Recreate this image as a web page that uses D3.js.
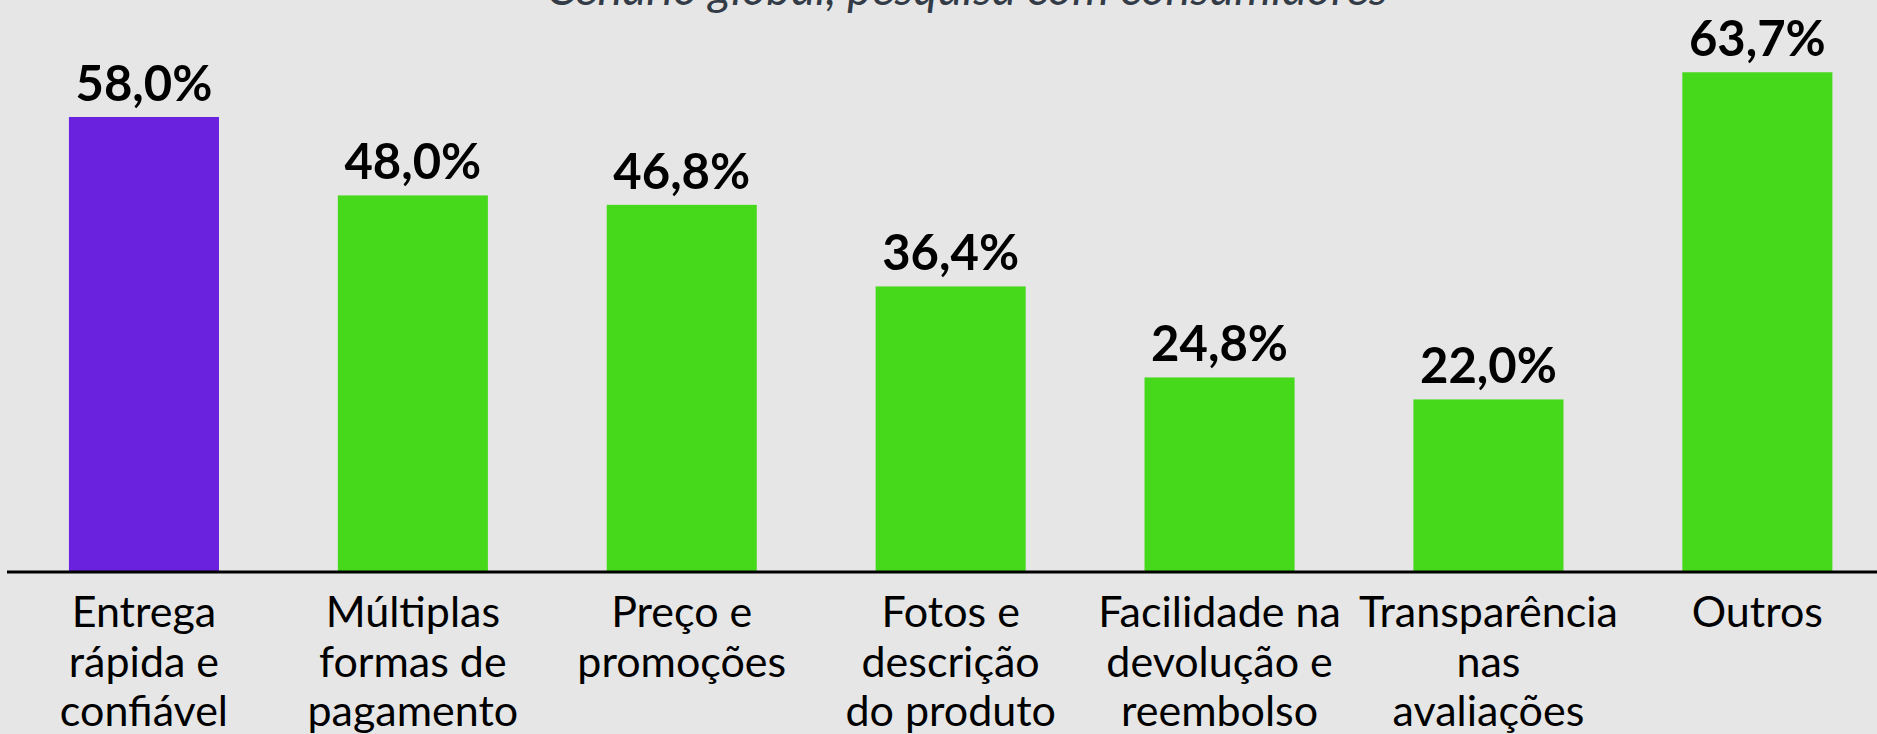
<!DOCTYPE html>
<html>
<head>
  <meta charset="utf-8" />
  <script src="https://d3js.org/d3.v7.min.js"></script>
  <style>
    body { margin: 0; background: #e6e6e6; }
    svg { display: block; }
  </style>
</head>
<body>
  <svg id="chart" width="1877" height="734"></svg>
  <script>
    const categories = [
      ["Entrega", "rápida e", "confiável"],
      ["Múltiplas", "formas de", "pagamento"],
      ["Preço e", "promoções"],
      ["Fotos e", "descrição", "do produto"],
      ["Facilidade na", "devolução e", "reembolso"],
      ["Transparência", "nas", "avaliações"],
      ["Outros"]
    ];
    const values = [58.0, 48.0, 46.8, 36.4, 24.8, 22.0, 63.7];
    const barColors = ["#6a22de", "#46d81a", "#46d81a", "#46d81a", "#46d81a", "#46d81a", "#46d81a"];
    const subtitle = "Cenário global, pesquisa com consumidores";

    const svg = d3.select("#chart");
    const width = +svg.attr("width");
    const baseY = 572;
    const font = "Lato, 'Open Sans', sans-serif";

    svg.append("rect").attr("width", width).attr("height", 734).attr("fill", "#e6e6e6");

    const x = d3.scaleBand()
      .domain(d3.range(values.length))
      .range([9.5, 1891.8])
      .paddingInner(0.442)
      .paddingOuter(0.221);

    const y = d3.scaleLinear().domain([0, 70]).range([baseY, baseY - 70 * 7.845]);

    // subtitle (top half is outside the picture in the original)
    svg.append("text")
      .attr("x", 967).attr("y", 5)
      .attr("text-anchor", "middle")
      .attr("font-family", font)
      .attr("font-style", "italic")
      .attr("font-size", 47)
      .attr("fill", "#333b46")
      .text(subtitle);

    svg.selectAll("rect.bar")
      .data(values)
      .join("rect")
      .attr("class", "bar")
      .attr("x", (d, i) => x(i))
      .attr("width", x.bandwidth())
      .attr("y", d => y(d))
      .attr("height", d => baseY - y(d))
      .attr("fill", (d, i) => barColors[i]);

    svg.selectAll("text.val")
      .data(values)
      .join("text")
      .attr("class", "val")
      .attr("x", (d, i) => x(i) + x.bandwidth() / 2)
      .attr("y", d => y(d) - 16)
      .attr("text-anchor", "middle")
      .attr("font-family", font)
      .attr("font-weight", "bold")
      .attr("font-size", 49)
      .attr("fill", "#000")
      .text(d => d.toFixed(1).replace(".", ",") + "%");

    // axis line
    svg.append("line")
      .attr("x1", 7).attr("x2", width)
      .attr("y1", baseY).attr("y2", baseY)
      .attr("stroke", "#000").attr("stroke-width", 3);

    const labels = svg.selectAll("text.cat")
      .data(categories)
      .join("text")
      .attr("class", "cat")
      .attr("text-anchor", "middle")
      .attr("font-family", font)
      .attr("font-size", 43)
      .attr("fill", "#000");

    labels.selectAll("tspan")
      .data((d, i) => d.map(t => ({ t, i })))
      .join("tspan")
      .attr("x", d => x(d.i) + x.bandwidth() / 2)
      .attr("y", (d, j) => 627 + j * 49.5)
      .text(d => d.t);
  </script>
</body>
</html>
